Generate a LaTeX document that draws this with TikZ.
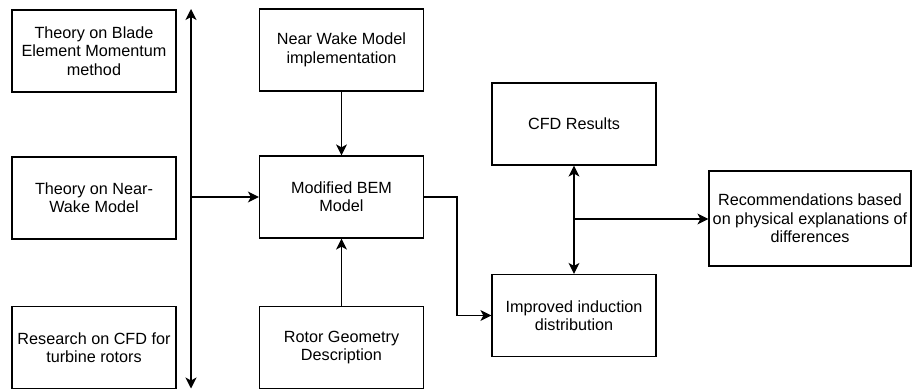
\documentclass[tikz,border=0pt]{standalone}
\usepackage{fontspec}
\setmainfont{Liberation Sans}
\usetikzlibrary{arrows.meta}
\begin{document}
\begin{tikzpicture}[x=1pt,y=-1pt,
  every node/.style={font=\fontsize{16.2}{18.4}\selectfont},
  tip/.tip={Stealth[length=11pt,width=11pt,inset=3pt]},
  box/.style={draw, line width=1.2pt, rectangle, minimum width=164pt, minimum height=82pt, align=center, inner sep=0pt},
  conn/.style={line width=1.2pt, -tip},
  conn2/.style={line width=1.2pt, tip-tip}]
\useasboundingbox (0,0) rectangle (912,390);
\node[box] (b1) at (94,51) {Theory on Blade\\Element Momentum\\method};
\node[box] (b2) at (94,198) {Theory on Near-\\Wake Model};
\node[box] (b3) at (94,347.5) {Research on CFD for\\turbine rotors};
\node[box] (nw) at (341.5,50) {Near Wake Model\\implementation};
\node[box] (bem) at (341.5,197) {Modified BEM\\Model};
\node[box] (rg) at (341.5,347.5) {Rotor Geometry\\Description};
\node[box] (cfd) at (574,124) {CFD Results};
\node[box] (imp) at (574,315.5) {Improved induction\\distribution};
\node[box, minimum width=202pt, minimum height=95pt] (rec) at (810,218.5) {Recommendations based\\on physical explanations of\\differences};
\coordinate (vt) at (191,9);
\coordinate (vb) at (191,388.5);
\coordinate (vm) at (191,197);
\coordinate (bend) at (457,197);
\coordinate (cm) at (574,219);
\draw[conn2] (vb) -- (vt);
\draw[conn] (vm) -- (bem.west);
\draw[conn] (nw) -- (bem);
\draw[conn] (rg) -- (bem);
\draw[conn] (bem.east) -- (bend) |- (imp.west);
\draw[conn2] (cfd) -- (imp);
\draw[conn] (cm) -- (cm -| rec.west);
\end{tikzpicture}
\end{document}
